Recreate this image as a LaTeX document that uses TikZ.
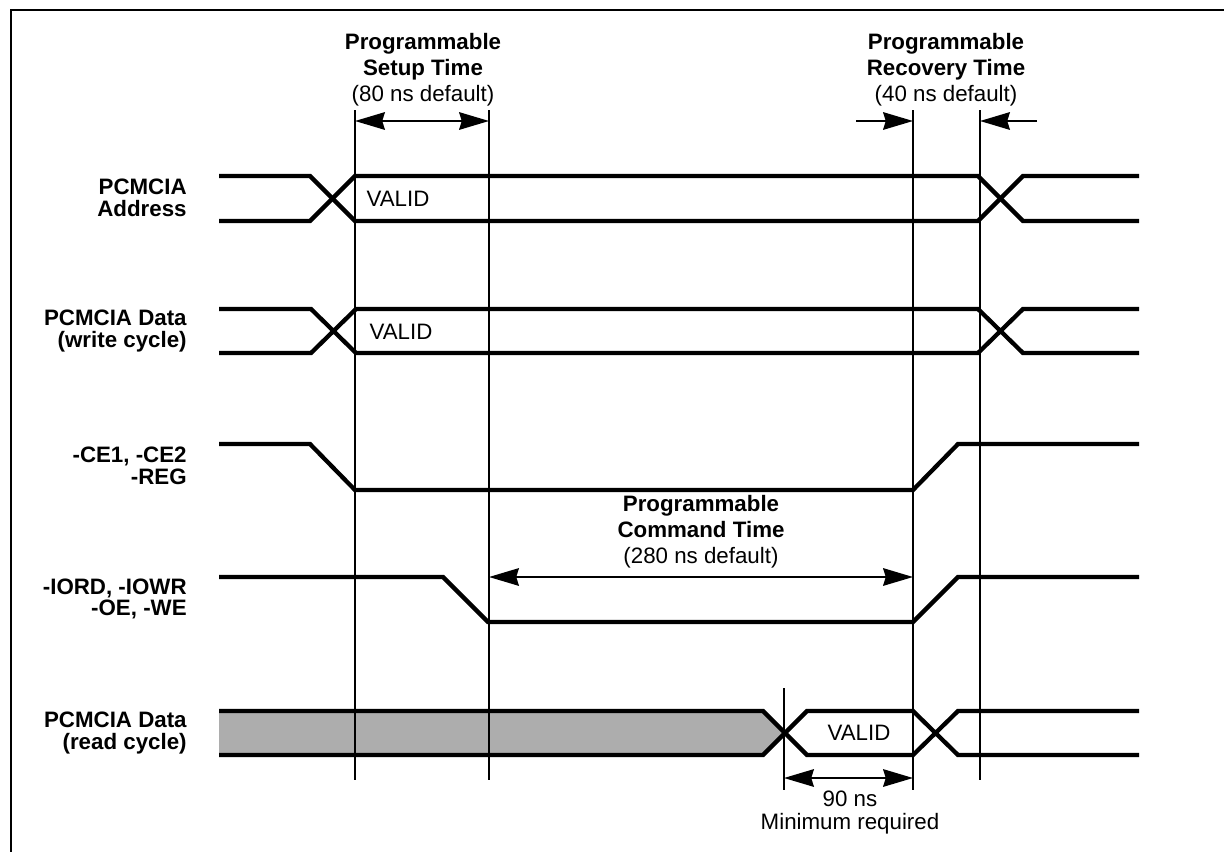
\documentclass[tikz,border=0pt]{standalone}
\usepackage{fontspec}
\setmainfont{Liberation Sans}
\usetikzlibrary{arrows.meta}
\tikzset{
  sigline/.style={line width=2.45pt, miter limit=10},
  mark line/.style={line width=1.1pt},
  dim line/.style={line width=1.1pt, {Stealth[length=17pt,width=10pt,inset=1.5pt]}-{Stealth[length=17pt,width=10pt,inset=1.5pt]}},
  dim stub/.style={line width=1.1pt, -{Stealth[length=17pt,width=10pt,inset=1.5pt]}},
  sig label/.style={align=right, anchor=east, inner sep=0pt, font=\fontsize{12.7}{12.4}\selectfont\bfseries},
  head label/.style={align=center, inner sep=0pt, font=\fontsize{12.7}{14.8}\selectfont},
  plain label/.style={inner sep=0pt, font=\fontsize{12.7}{14.8}\selectfont},
}
\begin{document}
\begin{tikzpicture}[x=0.02cm, y=-0.02cm]
  \useasboundingbox (0,0) rectangle (1224,852);

  % frame, open at the bottom and right
  \draw[line width=1.2pt] (11,852) -- (11,10) -- (1224,10);

  % shaded part of the read cycle
  \fill[black!32] (219,711) -- (763,711) -- (784,733) -- (763,755) -- (219,755) -- cycle;

  % marker lines
  \foreach \name/\xx/\ya/\yb in {setupa/355/110/780, setupb/489/110/780, recoa/913/110/790, recob/980/110/780, minline/784/688/790} {
    \coordinate (\name top) at (\xx,\ya);
    \coordinate (\name bot) at (\xx,\yb);
    \draw[mark line] (\name top) -- (\name bot);
  }

  % PCMCIA address
  \draw[sigline] (219,176) -- (310,176) -- (355,221) -- (978,221) -- (1023,176) -- (1139,176);
  \draw[sigline] (219,221) -- (310,221) -- (355,176) -- (978,176) -- (1023,221) -- (1139,221);

  % write data
  \draw[sigline] (219,309) -- (311,309) -- (356,353) -- (978,353) -- (1023,309) -- (1139,309);
  \draw[sigline] (219,353) -- (311,353) -- (356,309) -- (978,309) -- (1023,353) -- (1139,353);

  % strobes
  \draw[sigline] (219,444) -- (310,444) -- (355,490) -- (913,490) -- (958,444) -- (1139,444);
  \draw[sigline] (219,577) -- (443,577) -- (488,622) -- (913,622) -- (958,577) -- (1139,577);

  % read data
  \draw[sigline] (219,711) -- (763,711) -- (807,755) -- (913,755) -- (958,711) -- (1139,711);
  \draw[sigline] (219,755) -- (763,755) -- (807,711) -- (913,711) -- (958,755) -- (1139,755);

  % dimensions
  \coordinate (setupL) at (355,121);
  \coordinate (setupR) at (489,121);
  \draw[dim line] (setupL) -- (setupR);

  \coordinate (recoL) at (856,121);
  \coordinate (recoLe) at (913,121);
  \coordinate (recoR) at (1037,121);
  \coordinate (recoRe) at (980,121);
  \draw[dim stub] (recoL) -- (recoLe);
  \draw[dim stub] (recoR) -- (recoRe);

  \coordinate (cmdL) at (489,577);
  \coordinate (cmdR) at (913,577);
  \draw[dim line] (cmdL) -- (cmdR);

  \coordinate (minL) at (784,778);
  \coordinate (minR) at (913,778);
  \draw[dim line] (minL) -- (minR);

  % texts
  \node[head label] (setuptxt) at (423,70) {\textbf{Programmable}\\\textbf{Setup Time}\\(80 ns default)};
  \node[head label] (recotxt) at (946,70) {\textbf{Programmable}\\\textbf{Recovery Time}\\(40 ns default)};
  \node[head label] (cmdtxt) at (701,532) {\textbf{Programmable}\\\textbf{Command Time}\\(280 ns default)};
  \node[plain label] (minval) at (850,799) {90 ns};
  \node[plain label] (mintxt) at (850,824) {Minimum required};

  \node[sig label] (addrlab) at (187,198) {PCMCIA\\Address};
  \node[sig label] (wrlab) at (187,331) {PCMCIA Data\\(write cycle)};
  \node[sig label] (celab) at (187,466) {-CE1, -CE2\\-REG};
  \node[sig label] (iolab) at (187,599) {-IORD, -IOWR\\-OE, -WE};
  \node[sig label] (rdlab) at (187,733) {PCMCIA Data\\(read cycle)};

  \node[plain label] (valida) at (398,199) {VALID};
  \node[plain label] (validb) at (401,332) {VALID};
  \node[plain label] (validc) at (859,733) {VALID};
\end{tikzpicture}
\end{document}
